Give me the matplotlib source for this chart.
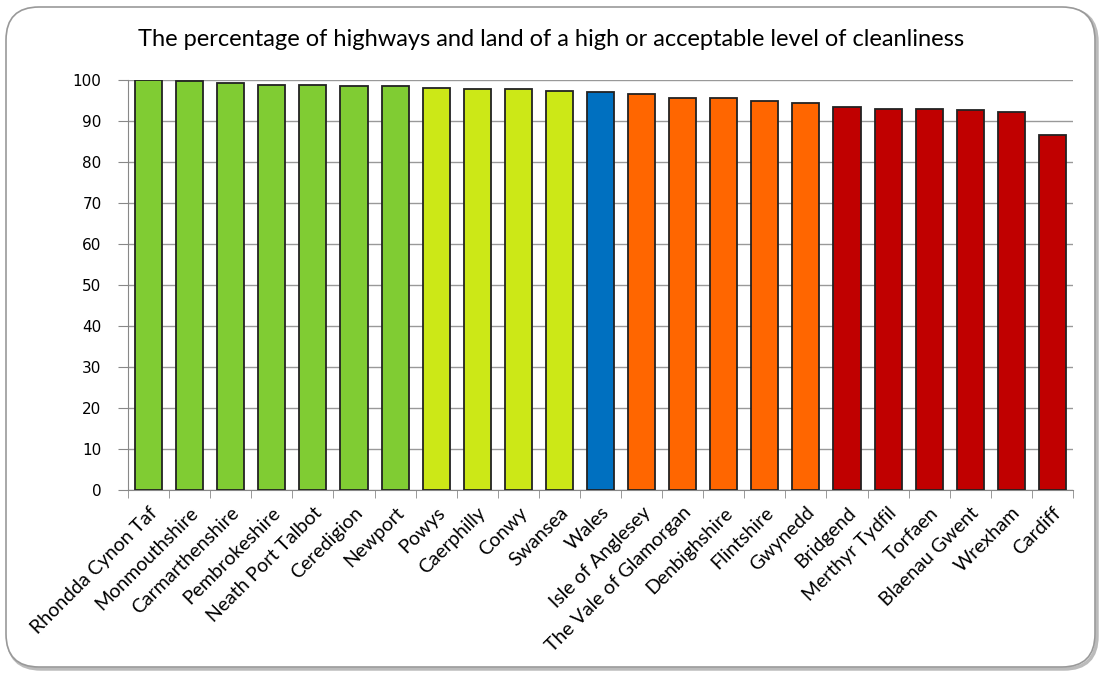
import matplotlib.pyplot as plt
from matplotlib.patches import FancyBboxPatch
import numpy as np

areas = [
    "Rhondda Cynon Taf", "Monmouthshire", "Carmarthenshire", "Pembrokeshire",
    "Neath Port Talbot", "Ceredigion", "Newport", "Powys", "Caerphilly", "Conwy",
    "Swansea", "Wales", "Isle of Anglesey", "The Vale of Glamorgan", "Denbighshire",
    "Flintshire", "Gwynedd", "Bridgend", "Merthyr Tydfil", "Torfaen",
    "Blaenau Gwent", "Wrexham", "Cardiff",
]
cleanliness = [
    100.0, 99.7, 99.3, 98.9, 98.9, 98.5, 98.5, 98.1, 97.7, 97.7,
    97.3, 97.0, 96.5, 95.7, 95.7, 95.0, 94.5, 93.3, 93.0, 93.0,
    92.6, 92.2, 86.7,
]
groups = ["top"] * 7 + ["upper"] * 4 + ["wales"] + ["lower"] * 5 + ["bottom"] * 6
group_colours = {
    "top": "#80CC33",
    "upper": "#CCE817",
    "wales": "#0070C0",
    "lower": "#FF6600",
    "bottom": "#C00000",
}

plt.rcParams["font.family"] = ["Lato", "DejaVu Sans"]

fig = plt.figure(figsize=(11.01, 6.73), dpi=100)
ax = fig.add_axes([128 / 1101, 1 - 490 / 673, (1073 - 128) / 1101, (490 - 80) / 673])
ax.patch.set_alpha(0)

# rounded chart border with a small shadow at the bottom right
shadow = FancyBboxPatch((8 / 1101, 4 / 673), 1089 / 1101, 660 / 673,
                        boxstyle="round,pad=0,rounding_size=0.03",
                        transform=fig.transFigure, facecolor="none",
                        edgecolor="#bbbbbb", linewidth=2.5, zorder=-2,
                        mutation_aspect=1101 / 673)
border = FancyBboxPatch((6 / 1101, 6 / 673), 1089 / 1101, 660 / 673,
                        boxstyle="round,pad=0,rounding_size=0.03",
                        transform=fig.transFigure, facecolor="white",
                        edgecolor="#999999", linewidth=1.2, zorder=-1,
                        mutation_aspect=1101 / 673)
fig.patches.extend([shadow, border])

x = np.arange(len(areas))
colours = [group_colours[g] for g in groups]
ax.bar(x, cleanliness, width=0.66, color=colours, edgecolor="#222222",
       linewidth=1.3, zorder=3)

ax.set_xlim(-0.5, len(areas) - 0.5)
ax.set_ylim(0, 100)
ax.set_yticks(range(0, 101, 10))
ax.yaxis.grid(True, color="#999999", linewidth=1.0, zorder=0)
ax.set_axisbelow(True)

ax.set_xticks(x)
ax.set_xticklabels(areas, rotation=45, ha="right", rotation_mode="anchor",
                   fontsize=14)
ax.tick_params(axis="x", length=0, pad=10)
ax.set_xticks(np.arange(-0.5, len(areas)), minor=True)
ax.tick_params(axis="x", which="minor", length=6, color="#888888")
ax.tick_params(axis="y", length=7, color="#888888", labelsize=11, pad=12)
for lbl in ax.get_yticklabels():
    lbl.set_fontfamily("DejaVu Sans")

for side in ["top", "right"]:
    ax.spines[side].set_visible(False)
for side in ["left", "bottom"]:
    ax.spines[side].set_color("#888888")

fig.text(551 / 1101, 1 - 39 / 673,
         "The percentage of highways and land of a high or acceptable level of cleanliness",
         ha="center", va="center", fontsize=17)

fig.savefig("out.png", dpi=100)
